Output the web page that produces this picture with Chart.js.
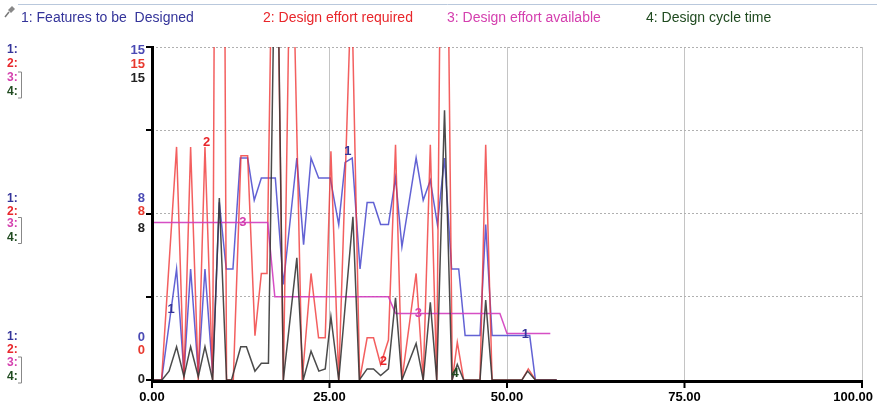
<!DOCTYPE html>
<html>
<head>
<meta charset="utf-8">
<script src="https://cdn.jsdelivr.net/npm/chart.js@4.4.1/dist/chart.umd.min.js"></script>
<style>
  html, body { margin: 0; padding: 0; background: #fff; }
  canvas { display: block; }
</style>
</head>
<body>
<canvas id="chart" width="877" height="411"></canvas>
<script>
// 1: Features to be Designed
const featT = [0, 1.35, 3.46, 4.5, 5.44, 6.52, 7.46, 8.54, 9.48, 10.46, 11.4, 12.44, 13.47, 14.4, 15.4, 17.37, 18.5, 20.4, 21.35, 22.4, 23.47, 25.1, 26.3, 27.2, 28.2, 29.3, 30.3, 31.2, 32.2, 33.3, 34.3, 35.2, 37.2, 38.2, 39.2, 40.2, 41.2, 42.2, 43.2, 44.1, 46.2, 47.0, 47.9, 53.2, 54.0, 57.0];
const featV = [0, 0, 5.0, 0.3, 5.0, 0.3, 5.0, 0.3, 8.0, 5.0, 5.0, 10.0, 10.0, 8.1, 9.1, 9.1, 4.3, 10.0, 6.1, 10.0, 9.1, 9.1, 7.0, 9.8, 10.0, 5.0, 8.0, 8.0, 7.0, 7.0, 9.1, 6.0, 10.0, 8.1, 9.0, 7.0, 10.0, 5.0, 5.0, 2.0, 2.0, 7.0, 2.0, 2.0, 0, 0];

// 2: Design effort required
const reqT = [0, 1.35, 3.46, 4.5, 5.44, 6.52, 7.46, 8.54, 9.5, 10.5, 11.45, 12.53, 13.47, 14.5, 15.4, 16.2, 17.3, 18.5, 19.6, 21.15, 22.4, 23.46, 24.4, 25.2, 26.3, 28.1, 29.25, 30.3, 31.2, 32.2, 33.3, 34.3, 35.2, 37.2, 38.2, 39.2, 40.1, 41.1, 42.3, 43.0, 43.9, 46.2, 47.0, 47.9, 52.1, 53.0, 54.0, 57.0];
const reqV = [0, 0, 10.5, 0, 10.5, 0, 10.5, 0, 70, 0, 0, 10.1, 10.1, 2.0, 4.8, 4.8, 28, 0, 23, 0, 4.8, 1.9, 1.9, 10.3, 0, 18, 0, 1.9, 1.9, 0.7, 1.8, 10.6, 0, 4.8, 0, 10.6, 0, 37, 0, 1.7, 0, 0, 10.6, 0, 0, 0.5, 0, 0];

// 3: Design effort available
const availT = [0, 16.3, 17.3, 33.3, 34.3, 49.0, 50.0, 56.1];
const availV = [7.1, 7.1, 3.75, 3.75, 3.0, 3.0, 2.1, 2.1];

// 4: Design cycle time
const cycleT = [0, 1.4, 2.4, 3.46, 4.5, 5.44, 6.52, 7.46, 8.54, 9.48, 10.5, 11.2, 12.5, 13.3, 14.5, 15.4, 16.4, 17.5, 18.5, 20.4, 21.3, 22.4, 23.5, 24.4, 25.2, 26.3, 28.3, 29.2, 30.3, 31.2, 32.2, 33.3, 34.3, 35.2, 37.2, 38.2, 39.2, 40.1, 41.2, 42.25, 43.0, 43.9, 46.2, 47.0, 47.9, 52.1, 52.9, 54.0, 57.0];
const cycleV = [0, 0, 0.4, 1.5, 0.15, 1.5, 0.15, 1.5, 0, 8.2, 0, 0, 1.5, 1.5, 0.4, 0.75, 0.75, 24, 0, 5.5, 0, 1.3, 0.4, 0.5, 2.85, 0, 7.35, 0, 0.5, 0.5, 0.2, 0.5, 3.7, 0, 1.65, 0, 3.5, 0, 12.15, 0, 0.7, 0, 0, 3.6, 0, 0, 0.4, 0, 0];

const seriesNames = ['1: Features to be  Designed', '2: Design effort required', '3: Design effort available', '4: Design cycle time'];
const xTicks = [0, 25, 50, 75, 100];
const yTicks = [0, 3.75, 7.5, 11.25, 15];
const yLabelVals = [15, 7.5, 0];
const yLabelText = ['15', '8', '0'];

const lineColors = ['rgba(70,70,205,0.85)', 'rgba(240,50,50,0.78)', 'rgba(210,60,190,0.9)', 'rgba(55,55,55,0.9)'];
const textColors = ['#34349a', '#e8262b', '#d43fae', '#1f4a1f'];
const numColors = ['#4a4ab4', '#e8392e', '#222222'];

const pts = (t, v) => t.map((x, i) => ({ x: x, y: v[i] }));

// series id tags drawn on the lines (time, value)
const tags = [
  [0, '1', 2.7, 3.2], [0, '1', 27.6, 10.3], [0, '1', 52.6, 2.05],
  [1, '2', 7.7, 10.7], [1, '2', 32.6, 0.85],
  [2, '3', 12.8, 7.1], [2, '3', 37.5, 3.0],
  [3, '4', 42.7, 0.3]
];

const overlay = {
  id: 'overlay',
  afterDraw(chart) {
    const { ctx, chartArea: a, scales: { x, y } } = chart;
    ctx.save();

    // top rule + pin
    ctx.strokeStyle = '#b9c8dc';
    ctx.lineWidth = 1;
    ctx.beginPath(); ctx.moveTo(18, 4.5); ctx.lineTo(877, 4.5); ctx.stroke();
    ctx.strokeStyle = '#777'; ctx.lineWidth = 1.5;
    ctx.beginPath(); ctx.moveTo(5, 17); ctx.lineTo(9, 12); ctx.stroke();
    ctx.fillStyle = '#888';
    ctx.beginPath(); ctx.moveTo(8, 10); ctx.lineTo(12, 6); ctx.lineTo(15, 9); ctx.lineTo(11, 13); ctx.closePath(); ctx.fill();

    // legend
    ctx.font = '14px "Liberation Sans", Arial, sans-serif';
    ctx.textBaseline = 'middle';
    ctx.textAlign = 'left';
    const legendX = [21, 263, 447, 646];
    seriesNames.forEach((n, i) => { ctx.fillStyle = textColors[i]; ctx.fillText(n, legendX[i], 18); });

    // axes
    ctx.strokeStyle = '#000';
    ctx.lineWidth = 3;
    ctx.beginPath();
    ctx.moveTo(a.left + 0.5, a.top - 1);
    ctx.lineTo(a.left + 0.5, a.bottom + 3);
    ctx.moveTo(a.left - 1, a.bottom + 1.5);
    ctx.lineTo(a.right + 1, a.bottom + 1.5);
    ctx.stroke();
    ctx.lineWidth = 2;
    ctx.beginPath();
    yTicks.forEach(v => { const py = Math.round(y.getPixelForValue(v)); ctx.moveTo(a.left - 6, py); ctx.lineTo(a.left, py); });
    xTicks.forEach(v => { const px = x.getPixelForValue(v); ctx.moveTo(px, a.bottom + 1); ctx.lineTo(px, a.bottom + 8); });
    ctx.stroke();

    // x tick labels
    ctx.font = 'bold 13px "Liberation Sans", Arial, sans-serif';
    ctx.fillStyle = '#000';
    ctx.textAlign = 'center';
    xTicks.forEach(v => {
      const lbl = v.toFixed(2);
      const w = ctx.measureText(lbl).width;
      const px = Math.min(x.getPixelForValue(v), 873 - w / 2);
      ctx.fillText(lbl, px, a.bottom + 17);
    });

    // left scale labels
    ctx.font = 'bold 12px "Liberation Sans", Arial, sans-serif';
    const rowOff = [[3, 17, 31, 45], [-15, -2, 10, 24], [-43, -30, -17, -3]];
    const numOff = [[3, 17, 31], [-15, -2, 15], [-43, -30, -1]];
    yLabelVals.forEach((v, g) => {
      const py = y.getPixelForValue(v);
      ctx.textAlign = 'left';
      for (let i = 0; i < 4; i++) {
        ctx.fillStyle = textColors[i];
        ctx.fillText((i + 1) + ':', 7, py + rowOff[g][i]);
      }
      ctx.strokeStyle = '#888'; ctx.lineWidth = 1;
      ctx.beginPath();
      ctx.moveTo(18, py + rowOff[g][2] - 6); ctx.lineTo(21.5, py + rowOff[g][2] - 6);
      ctx.lineTo(21.5, py + rowOff[g][3] + 6); ctx.lineTo(18, py + rowOff[g][3] + 6);
      ctx.stroke();
      ctx.textAlign = 'right';
      ctx.font = 'bold 13px "Liberation Sans", Arial, sans-serif';
      for (let i = 0; i < 3; i++) {
        ctx.fillStyle = numColors[i];
        ctx.fillText(yLabelText[g], 145, py + numOff[g][i]);
      }
      ctx.font = 'bold 12px "Liberation Sans", Arial, sans-serif';
    });

    // tags on lines
    ctx.font = 'bold 13px "Liberation Sans", Arial, sans-serif';
    ctx.textAlign = 'center';
    tags.forEach(([s, txt, t, v]) => {
      ctx.fillStyle = textColors[s];
      ctx.fillText(txt, x.getPixelForValue(t), y.getPixelForValue(v));
    });
    ctx.restore();
  }
};

new Chart(document.getElementById('chart'), {
  type: 'line',
  data: {
    datasets: [
      { label: seriesNames[0], data: pts(featT, featV), borderColor: lineColors[0], order: 4 },
      { label: seriesNames[1], data: pts(reqT, reqV), borderColor: lineColors[1], order: 3 },
      { label: seriesNames[2], data: pts(availT, availV), borderColor: lineColors[2], order: 2 },
      { label: seriesNames[3], data: pts(cycleT, cycleV), borderColor: lineColors[3], order: 1 }
    ]
  },
  options: {
    responsive: false,
    animation: false,
    devicePixelRatio: 1,
    layout: { padding: { left: 152, right: 15, top: 47, bottom: 31 } },
    elements: { point: { radius: 0 }, line: { borderWidth: 1.5, tension: 0, fill: false } },
    plugins: { legend: { display: false }, tooltip: { enabled: false } },
    scales: {
      x: {
        type: 'linear', min: 0, max: 100,
        afterFit: s => { s.height = 0; },
        ticks: { display: false, stepSize: 25 },
        grid: { color: '#c4c4c4', drawTicks: false },
        border: { display: false }
      },
      y: {
        min: 0, max: 15,
        afterFit: s => { s.width = 0; },
        ticks: { display: false, stepSize: 3.75 },
        grid: { color: '#b0b0b0', drawTicks: false },
        border: { display: false, dash: [2, 2] }
      }
    }
  },
  plugins: [overlay]
});
</script>
</body>
</html>
